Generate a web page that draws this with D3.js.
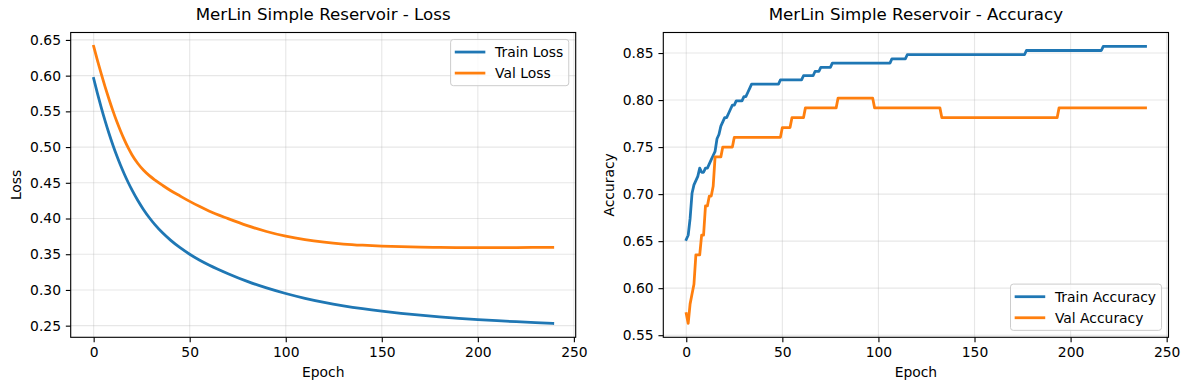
<!DOCTYPE html>
<html><head><meta charset="utf-8">
<script src="https://cdn.jsdelivr.net/npm/d3@7"></script>
<style>body{margin:0;background:#fff} svg{display:block} text{font-family:"DejaVu Sans",sans-serif;fill:#000}</style>
</head><body><svg id="c" width="1189" height="390"></svg>
<script>
// ---------- data ----------
const epochTicks = [0, 50, 100, 150, 200, 250];
const lossTicks = [0.25, 0.30, 0.35, 0.40, 0.45, 0.50, 0.55, 0.60, 0.65];
const accTicks = [0.55, 0.60, 0.65, 0.70, 0.75, 0.80, 0.85];
const nEpochs = 240;

const lossEpochs = [0,2,4,6,8,10,12,14,16,18,20,23,26,29,32,36,40,45,50,55,60,70,80,90,100,110,120,130,140,150,160,170,180,190,200,210,220,230,239];
const trainLoss = [0.5960,0.5748,0.5549,0.5363,0.5190,0.5030,0.4882,0.4746,0.4620,0.4504,0.4397,0.4252,0.4124,0.4011,0.3911,0.3796,0.3697,0.3591,0.3500,0.3420,0.3350,0.3228,0.3120,0.3028,0.2950,0.2883,0.2826,0.2778,0.2737,0.2702,0.2672,0.2646,0.2623,0.2603,0.2585,0.2569,0.2555,0.2542,0.2531];
const valLoss = [0.6410,0.6210,0.6020,0.5840,0.5670,0.5510,0.5360,0.5225,0.5100,0.4988,0.4890,0.4770,0.4675,0.4600,0.4537,0.4462,0.4392,0.4315,0.4240,0.4170,0.4105,0.3998,0.3900,0.3818,0.3752,0.3703,0.3668,0.3643,0.3626,0.3614,0.3605,0.3599,0.3595,0.3593,0.3592,0.3592,0.3593,0.3595,0.3597];

// accuracy: [first epoch, value held from that epoch on]
const trainAccSteps = [[0,0.6518],[1,0.6563],[2,0.6741],[3,0.7009],[4,0.7098],[5,0.7143],[6,0.7188],[7,0.7277],[8,0.7232],[10,0.7277],[12,0.7321],[13,0.7366],[14,0.7411],[15,0.7455],[16,0.7589],[17,0.7634],[18,0.7723],[19,0.7768],[20,0.7813],[22,0.7857],[23,0.7902],[24,0.7946],[26,0.7991],[30,0.8036],[32,0.8080],[33,0.8125],[34,0.8170],[49,0.8214],[61,0.8259],[67,0.8304],[70,0.8348],[76,0.8393],[107,0.8438],[115,0.8482],[177,0.8527],[217,0.8571]];
const valAccSteps = [[0,0.5729],[1,0.5625],[2,0.5833],[3,0.5938],[4,0.6042],[5,0.6354],[8,0.6563],[10,0.6875],[12,0.6979],[14,0.7083],[15,0.7396],[19,0.7500],[25,0.7604],[50,0.7708],[55,0.7813],[62,0.7917],[79,0.8021],[98,0.7917],[133,0.7813],[194,0.7917]];

// ---------- drawing ----------
const FS = 13.89;
const svg = d3.select("#c");
const BLUE = "#1f77b4", ORANGE = "#ff7f0e";

function expandSteps(steps) {
  const xs = [], ys = [];
  for (let e = 0; e < nEpochs; e++) {
    let v = steps[0][1];
    for (const s of steps) if (s[0] <= e) v = s[1];
    xs.push(e); ys.push(v);
  }
  return {x: xs, y: ys};
}

function panel(o) {
  const {x0, x1, y0, y1} = o;
  const allX = o.series.flatMap(s => s.x), allY = o.series.flatMap(s => s.y);
  const [xa, xb] = d3.extent(allX), [ya, yb] = d3.extent(allY);
  const mx = (xb - xa) * 0.05, my = (yb - ya) * 0.05;
  const x = d3.scaleLinear().domain([xa - mx, xb + mx]).range([x0, x1]);
  const y = d3.scaleLinear().domain([ya - my, yb + my]).range([y1, y0]);
  const g = svg.append("g");

  // grid
  g.append("g").selectAll("line").data(o.xTicks).join("line")
    .attr("x1", d => x(d)).attr("x2", d => x(d)).attr("y1", y0).attr("y2", y1)
    .attr("stroke", "#b0b0b0").attr("stroke-opacity", 0.3).attr("stroke-width", 1.11);
  g.append("g").selectAll("line").data(o.yTicks).join("line")
    .attr("y1", d => y(d)).attr("y2", d => y(d)).attr("x1", x0).attr("x2", x1)
    .attr("stroke", "#b0b0b0").attr("stroke-opacity", 0.3).attr("stroke-width", 1.11);

  // series
  for (const s of o.series) {
    const pts = s.x.map((v, i) => [v, s.y[i]]);
    g.append("path").datum(pts)
      .attr("d", d3.line().x(d => x(d[0])).y(d => y(d[1])).curve(s.curve || d3.curveLinear))
      .attr("fill", "none").attr("stroke", s.color).attr("stroke-width", 2.78)
      .attr("stroke-linejoin", "round").attr("stroke-linecap", "square");
  }

  // axes
  const ax = g.append("g").attr("transform", `translate(0,${y1})`)
    .call(d3.axisBottom(x).tickValues(o.xTicks).tickFormat(d3.format("d")).tickSize(4.86).tickPadding(4.86));
  const ay = g.append("g").attr("transform", `translate(${x0},0)`)
    .call(d3.axisLeft(y).tickValues(o.yTicks).tickFormat(d3.format(".2f")).tickSize(4.86).tickPadding(4.86));
  for (const a of [ax, ay]) {
    a.select(".domain").remove();
    a.attr("font-size", FS).attr("font-family", "DejaVu Sans");
    a.selectAll(".tick line").attr("stroke", "#000").attr("stroke-width", 1.11);
    a.selectAll(".tick text").attr("fill", "#000");
  }
  let maxW = 0;
  ay.selectAll(".tick text").each(function () { maxW = Math.max(maxW, this.getComputedTextLength()); });

  // spines
  g.append("rect").attr("x", x0).attr("y", y0).attr("width", x1 - x0).attr("height", y1 - y0)
    .attr("fill", "none").attr("stroke", "#000").attr("stroke-width", 1.11);

  // title & labels
  g.append("text").attr("x", (x0 + x1) / 2).attr("y", y0 - 12.6).attr("text-anchor", "middle")
    .attr("font-size", 16.67).text(o.title);
  g.append("text").attr("x", (x0 + x1) / 2).attr("y", 376.5).attr("text-anchor", "middle")
    .attr("font-size", FS).text(o.xLabel);
  const lx = x0 - 9.72 - maxW - 5.56 - 3.3, ly = (y0 + y1) / 2;
  g.append("text").attr("transform", `translate(${lx},${ly}) rotate(-90)`).attr("text-anchor", "middle")
    .attr("font-size", FS).text(o.yLabel);

  // legend
  const bp = 0.4 * FS, hl = 2 * FS, htp = 0.8 * FS, ls = 0.5 * FS, bap = 0.5 * FS, rowH = 14.1;
  const lg = g.append("g");
  const texts = o.series.map(s => lg.append("text").attr("font-size", FS).text(s.name));
  const tw = d3.max(texts, t => t.node().getComputedTextLength());
  const bw = 2 * bp + hl + htp + tw;
  const bh = 2 * bp + o.series.length * rowH + (o.series.length - 1) * ls;
  const bx = x1 - bap - bw;
  const by = o.legend === "upper right" ? y0 + bap : y1 - bap - bh;
  lg.insert("rect", ":first-child").attr("x", bx).attr("y", by).attr("width", bw).attr("height", bh)
    .attr("rx", 2.8).attr("fill", "#fff").attr("fill-opacity", 0.8)
    .attr("stroke", "#cccccc").attr("stroke-width", 1);
  o.series.forEach((s, i) => {
    const cy = by + bp + rowH / 2 + i * (rowH + ls);
    lg.append("line").attr("x1", bx + bp).attr("x2", bx + bp + hl).attr("y1", cy).attr("y2", cy)
      .attr("stroke", s.color).attr("stroke-width", 2.78).attr("stroke-linecap", "square");
    texts[i].attr("x", bx + bp + hl + htp).attr("y", cy + 5);
  });
}

const trainAcc = expandSteps(trainAccSteps), valAcc = expandSteps(valAccSteps);

panel({
  x0: 70.7, x1: 575.7, y0: 32.5, y1: 337.3,
  title: "MerLin Simple Reservoir - Loss", xLabel: "Epoch", yLabel: "Loss",
  xTicks: epochTicks, yTicks: lossTicks, legend: "upper right",
  series: [
    {name: "Train Loss", color: BLUE, x: lossEpochs, y: trainLoss, curve: d3.curveMonotoneX},
    {name: "Val Loss", color: ORANGE, x: lossEpochs, y: valLoss, curve: d3.curveMonotoneX}
  ]
});
panel({
  x0: 663.3, x1: 1168.5, y0: 32.5, y1: 337.3,
  title: "MerLin Simple Reservoir - Accuracy", xLabel: "Epoch", yLabel: "Accuracy",
  xTicks: epochTicks, yTicks: accTicks, legend: "lower right",
  series: [
    {name: "Train Accuracy", color: BLUE, x: trainAcc.x, y: trainAcc.y},
    {name: "Val Accuracy", color: ORANGE, x: valAcc.x, y: valAcc.y}
  ]
});
</script></body></html>
